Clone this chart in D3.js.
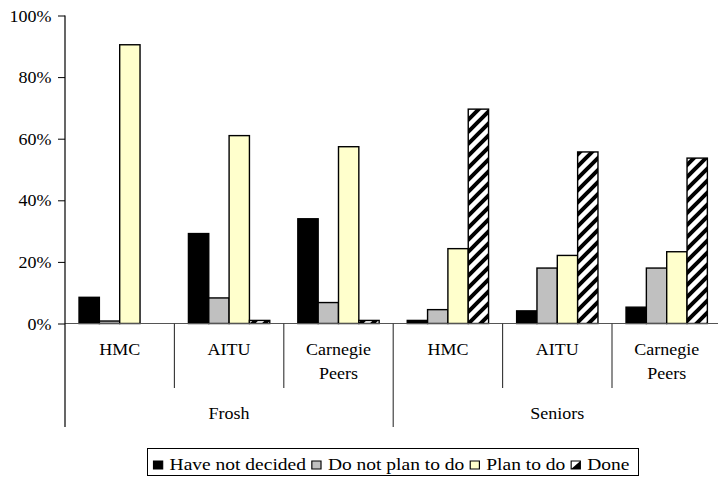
<!DOCTYPE html>
<html>
<head>
<meta charset="utf-8">
<script src="https://cdn.jsdelivr.net/npm/d3@7/dist/d3.min.js"></script>
</head>
<body style="margin:0">
<svg id="chart" width="718" height="485"></svg>
<script>
// ---- data ----
const groups = ["Frosh", "Seniors"];
const subCategories = ["HMC", "AITU", "Carnegie Peers"];
const seriesNames = ["Have not decided", "Do not plan to do", "Plan to do", "Done"];
const haveNotDecided = [8.5, 29.2, 34.0, 1.0, 4.1, 5.3];
const doNotPlanToDo  = [0.8, 8.3, 6.8, 4.5, 18.0, 18.0];
const planToDo       = [90.5, 61.0, 57.4, 24.3, 22.1, 23.3];
const done           = [0.0, 1.0, 1.0, 69.6, 55.7, 53.7];
const yTicks = [0, 20, 40, 60, 80, 100];

const seriesValues = [haveNotDecided, doNotPlanToDo, planToDo, done];
const categories = [];
groups.forEach(g => subCategories.forEach(s => categories.push({group: g, name: s, key: g + "|" + s})));

// ---- layout ----
const FS = 17, SX = 1.06;
const FF = "Liberation Serif";
const svg = d3.select("#chart");
const left = 65, step = 109.4;
const x0 = d3.scaleBand().domain(categories.map(c => c.key))
  .range([left, left + step * categories.length]).padding(0);
const x1 = d3.scaleBand().domain(seriesNames).range([0, x0.bandwidth()])
  .paddingInner(0).paddingOuter(0.69);
const y = d3.scaleLinear().domain([0, 100]).range([323.5, 15.5]);

const fills = ["#000000", "#C0C0C0", "#FFFFCC", "url(#hatch)"];

const defs = svg.append("defs");
const pat = defs.append("pattern").attr("id", "hatch")
  .attr("patternUnits", "userSpaceOnUse").attr("width", 12).attr("height", 12);
pat.append("rect").attr("width", 12).attr("height", 12).attr("fill", "#fff");
pat.append("path").attr("d", "M-3,3 L3,-3 M0,12 L12,0 M9,15 L15,9")
  .attr("stroke", "#000").attr("stroke-width", 4);

// stretched text helper
function label(parent, x, yy, lines, anchor, lineH) {
  const g = parent.append("g").attr("transform", `translate(${x},${yy}) scale(${SX},1)`);
  const t = g.append("text").attr("text-anchor", anchor).attr("font-size", FS)
    .attr("font-family", FF).attr("fill", "#000");
  lines.forEach((p, k) => t.append("tspan").attr("x", 0).attr("dy", k === 0 ? 0 : lineH).text(p));
  return t;
}

// bars
seriesNames.forEach((s, si) => {
  svg.append("g").selectAll("rect").data(categories).join("rect")
    .attr("x", (d) => x0(d.key) + x1(s))
    .attr("width", x1.bandwidth())
    .attr("y", (d, i) => y(seriesValues[si][i]))
    .attr("height", (d, i) => y(0) - y(seriesValues[si][i]))
    .attr("fill", fills[si])
    .attr("stroke", "#000")
    .attr("stroke-width", (d, i) => seriesValues[si][i] > 0 ? 1.4 : 0);
});

// y axis
const yAxis = d3.axisLeft(y).tickValues(yTicks).tickFormat(d => d + "%").tickSize(7).tickPadding(6);
const ya = svg.append("g").attr("transform", `translate(${left},0)`).call(yAxis);
ya.attr("font-family", FF);
ya.select(".domain").remove();
ya.selectAll(".tick line").attr("stroke", "#000");
ya.selectAll(".tick text").each(function(d) {
  const tick = d3.select(this.parentNode);
  d3.select(this).remove();
  label(tick, -13.5, 5.5, [d + "%"], "end", 0);
});

// x axis baseline
svg.append("line").attr("x1", left).attr("x2", 718).attr("y1", y(0)).attr("y2", y(0))
  .attr("stroke", "#555").attr("stroke-width", 1.2);
// y axis line (extends through label area)
svg.append("line").attr("x1", left).attr("x2", left).attr("y1", y(100)).attr("y2", 427)
  .attr("stroke", "#000").attr("stroke-width", 1.2);

// category dividers
categories.forEach((c, i) => {
  if (i === 0) return;
  const xx = x0(c.key);
  const longLine = subCategories.indexOf(c.name) === 0;
  svg.append("line").attr("x1", xx).attr("x2", xx).attr("y1", y(0)).attr("y2", longLine ? 427 : 388)
    .attr("stroke", "#333").attr("stroke-width", 1.1);
});

// category labels
categories.forEach(d => {
  label(svg, x0(d.key) + x0.bandwidth() / 2, 355, d.name.split(" "), "middle", 24.5);
});

// group labels
groups.forEach(g => {
  const keys = categories.filter(c => c.group === g).map(c => c.key);
  const gx0 = x0(keys[0]), gx1 = x0(keys[keys.length - 1]) + x0.bandwidth();
  label(svg, (gx0 + gx1) / 2, 419, [g], "middle", 0);
});

// legend
const lg = svg.append("g");
lg.append("rect").attr("x", 147.5).attr("y", 448.5).attr("width", 491).attr("height", 27)
  .attr("fill", "#fff").attr("stroke", "#000").attr("stroke-width", 1);
const inner = lg.append("g");
let cx = 0;
seriesNames.forEach((s, si) => {
  const m = inner.append("g").attr("transform", `translate(${cx},0)`);
  if (si < 3) {
    m.append("rect").attr("width", 8).attr("height", 8).attr("fill", fills[si])
      .attr("stroke", "#000").attr("stroke-width", 1);
  } else {
    m.append("rect").attr("width", 8).attr("height", 8).attr("fill", "#fff")
      .attr("stroke", "#000").attr("stroke-width", 1);
    m.append("path").attr("d", "M8,0 L8,8 L0,8 Z").attr("fill", "#000");
  }
  const t = inner.append("text").attr("x", cx + 14).attr("y", 8.5)
    .attr("font-size", FS).attr("font-family", FF).attr("fill", "#000").text(s);
  const w = t.node().getComputedTextLength();
  cx = cx + 14 + w + (si < 3 ? 5 : 0);
});
const lsx = (629.5 - 153.5) / cx;
inner.attr("transform", `translate(153.5,461) scale(${lsx},1)`);
</script>
</body>
</html>
